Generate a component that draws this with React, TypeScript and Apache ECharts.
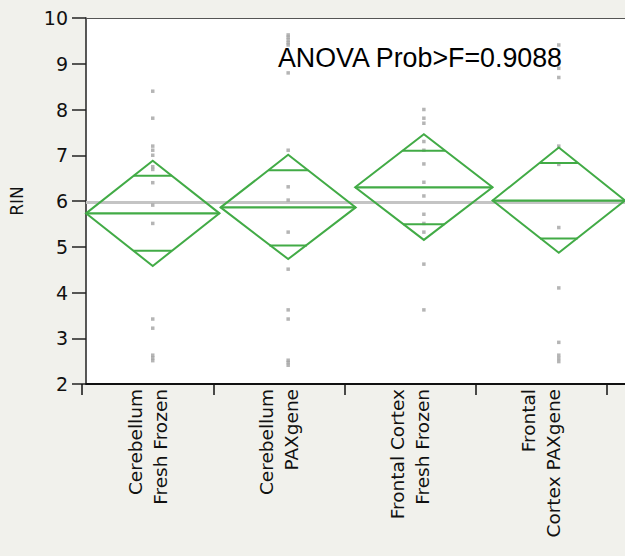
import React, { useEffect, useRef } from "react";
import * as echarts from "echarts";

// ---- data ----
const categories = [
  "Cerebellum\nFresh Frozen",
  "Cerebellum\nPAXgene",
  "Frontal Cortex\nFresh Frozen",
  "Frontal\nCortex PAXgene",
];
const yTicks = { min: 2, max: 10, interval: 1 };
const xExtent = 4.135; // plot width in category units (x positions proportional to group size)

const groupCenters = [0.512, 1.551, 2.592, 3.627];
const groupHalfWidths = [0.512, 0.518, 0.527, 0.508];
const groupMeans = [5.73, 5.86, 6.3, 6.01];
const ciLow = [4.58, 4.73, 5.15, 4.87];
const ciHigh = [6.88, 7.01, 7.46, 7.17];
const markLow = [4.91, 5.03, 5.49, 5.18];
const markHigh = [6.55, 6.67, 7.1, 6.83];
const grandMean = 5.98;

const pointsCerebellumFF = [8.4, 7.81, 7.2, 7.11, 7.0, 6.75, 6.69, 6.4, 5.91, 5.51, 3.42, 3.22, 2.63, 2.57, 2.51];
const pointsCerebellumPAX = [9.63, 9.58, 9.52, 9.46, 9.41, 8.8, 7.11, 6.31, 6.02, 5.32, 4.51, 3.62, 3.42, 2.52, 2.47, 2.41];
const pointsFrontalFF = [8.0, 7.81, 7.7, 7.3, 7.11, 6.81, 6.41, 6.11, 5.71, 5.51, 5.32, 4.62, 3.62];
const pointsFrontalPAX = [9.41, 8.9, 8.7, 7.2, 6.8, 5.42, 4.1, 2.91, 2.63, 2.56, 2.49];
const groupPoints = [pointsCerebellumFF, pointsCerebellumPAX, pointsFrontalFF, pointsFrontalPAX];

const annotation = "ANOVA Prob>F=0.9088";

const GREEN = "#42ab46";
const TEXT = "#111111";

export default function App() {
  const ref = useRef<HTMLDivElement>(null);
  useEffect(() => {
    if (!ref.current) return;
    const chart = echarts.init(ref.current, undefined, { renderer: "svg" });

    const diamondData = groupCenters.map((c, i) => [
      c,
      groupHalfWidths[i],
      groupMeans[i],
      ciLow[i],
      ciHigh[i],
      markLow[i],
      markHigh[i],
    ]);
    const scatterData: number[][] = [];
    groupPoints.forEach((pts, i) => pts.forEach((v) => scatterData.push([groupCenters[i], v])));

    const option: any = {
      animation: false,
      backgroundColor: "#f1f1ec",
      title: {
        text: annotation,
        left: 273,
        top: 39,
        textStyle: {
          fontFamily: "Liberation Sans, Arial, sans-serif",
          fontSize: 26.8,
          fontWeight: "normal",
          color: "#000",
        },
      },
      grid: [
        { left: 82, top: 18, width: 543, height: 366, show: true, backgroundColor: "#ffffff", borderWidth: 0 },
        { left: 82, top: 18, width: 525, height: 366, show: false },
      ],
      xAxis: [
        {
          type: "value",
          gridIndex: 0,
          min: 0,
          max: xExtent,
          position: "bottom",
          axisLine: { show: true, lineStyle: { color: "#111", width: 2 } },
          axisTick: { show: false },
          axisLabel: { show: false },
          splitLine: { show: false },
        },
        {
          type: "value",
          gridIndex: 0,
          min: 0,
          max: xExtent,
          position: "top",
          axisLine: { show: true, lineStyle: { color: "#555", width: 1 } },
          axisTick: { show: false },
          axisLabel: { show: false },
          splitLine: { show: false },
        },
        {
          type: "category",
          gridIndex: 1,
          data: categories,
          position: "bottom",
          boundaryGap: true,
          axisLine: { show: false },
          axisTick: { show: true, length: 11, lineStyle: { color: "#111", width: 1.5 } },
          axisLabel: {
            rotate: 90,
            margin: 5,
            fontSize: 18.5,
            lineHeight: 25,
            fontFamily: "DejaVu Sans, Verdana, sans-serif",
            color: TEXT,
          },
        },
      ],
      yAxis: [
        {
          type: "value",
          gridIndex: 0,
          min: yTicks.min,
          max: yTicks.max,
          interval: yTicks.interval,
          name: "RIN",
          nameLocation: "middle",
          nameGap: 61,
          nameTextStyle: { fontSize: 17, color: TEXT, fontFamily: "DejaVu Sans, Verdana, sans-serif" },
          axisLine: { show: true, lineStyle: { color: "#222", width: 1.5 } },
          axisTick: { show: true, length: 14, lineStyle: { color: "#222", width: 1.5 } },
          axisLabel: {
            margin: 18,
            fontSize: 19,
            color: TEXT,
            fontFamily: "DejaVu Sans, Verdana, sans-serif",
          },
          splitLine: { show: false },
        },
        { type: "value", gridIndex: 1, show: false, min: 0, max: 1 },
      ],
      series: [
        {
          type: "scatter",
          xAxisIndex: 0,
          yAxisIndex: 0,
          data: scatterData,
          symbol: "rect",
          symbolSize: 3.5,
          itemStyle: { color: "#a3a3a3" },
          z: 2,
          markLine: {
            silent: true,
            symbol: "none",
            label: { show: false },
            lineStyle: { color: "#c4c4c4", width: 3, type: "solid" },
            data: [{ yAxis: grandMean }],
            z: 1,
          },
        },
        {
          type: "custom",
          xAxisIndex: 0,
          yAxisIndex: 0,
          clip: false,
          z: 3,
          data: diamondData,
          encode: { x: 0, y: 2 },
          renderItem: (params: any, api: any) => {
            const cx = api.value(0);
            const hw = api.value(1);
            const mean = api.value(2);
            const lo = api.value(3);
            const hi = api.value(4);
            const mlo = api.value(5);
            const mhi = api.value(6);
            const L = api.coord([cx - hw, mean]);
            const R = api.coord([cx + hw, mean]);
            const T = api.coord([cx, hi]);
            const B = api.coord([cx, lo]);
            const style = { stroke: GREEN, lineWidth: 2, fill: "none" };
            const half = hi - mean;
            const mark = (m: number) => {
              const f = 1 - Math.abs(m - mean) / half;
              const a = api.coord([cx - hw * f, m]);
              const b = api.coord([cx + hw * f, m]);
              return {
                type: "line",
                shape: { x1: a[0], y1: a[1], x2: b[0], y2: b[1] },
                style: { stroke: GREEN, lineWidth: 2 },
              };
            };
            return {
              type: "group",
              children: [
                { type: "polygon", shape: { points: [L, T, R, B] }, style },
                {
                  type: "line",
                  shape: { x1: L[0], y1: L[1], x2: R[0], y2: R[1] },
                  style: { stroke: GREEN, lineWidth: 2.2 },
                },
                mark(mlo),
                mark(mhi),
              ],
            };
          },
        },
      ],
    };
    chart.setOption(option);
    return () => chart.dispose();
  }, []);
  return (
    <div
      ref={ref}
      style={{ position: "fixed", left: 0, top: 0, width: 625, height: 556 }}
    />
  );
}
